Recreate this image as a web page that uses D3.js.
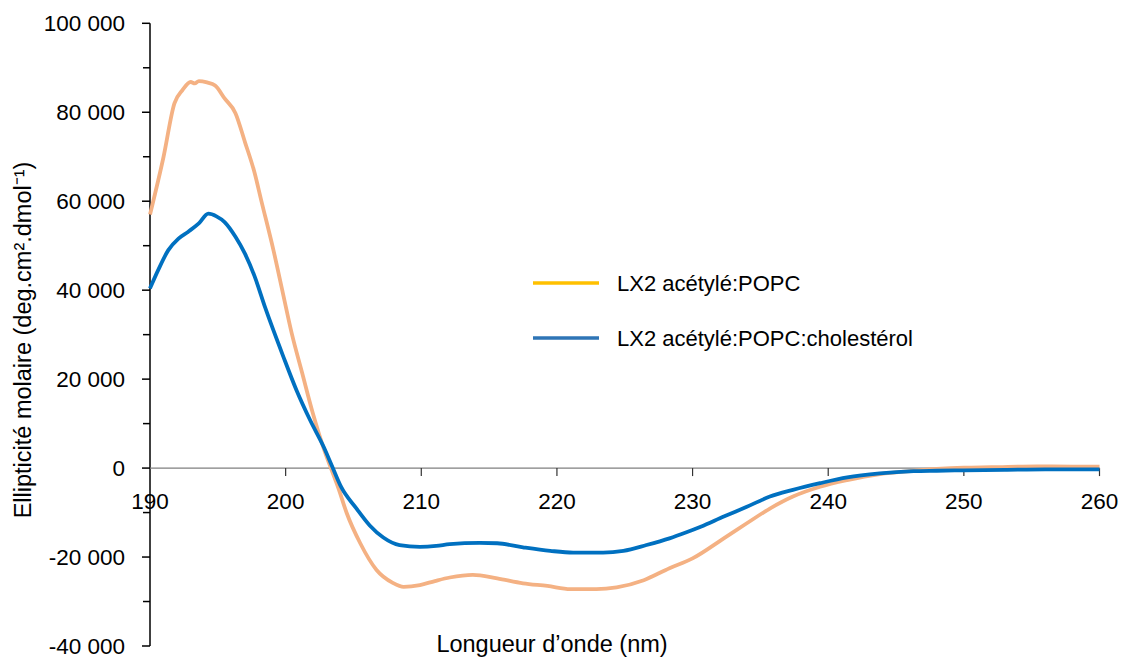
<!DOCTYPE html>
<html>
<head>
<meta charset="utf-8">
<script src="https://cdn.jsdelivr.net/npm/d3@7"></script>
<style>
  body { margin: 0; background: #fff; }
  text { font-family: "Liberation Sans", Arial, sans-serif; fill: #000; }
</style>
</head>
<body>
<div id="graph"></div>
<script>
// ------DATA------
// wavelength (nm) / molar ellipticity
const popcNm = [190, 191, 191.8, 192.4, 193, 193.3, 193.6, 194.2, 194.8, 195.5, 196.3, 197, 197.7, 198.2, 199.1, 199.8, 200.45, 201.2, 202, 202.9, 203.4, 203.9, 204.5, 205.5, 206.7, 207.9, 208.7, 209.9, 211, 212.1, 213.8, 215.6, 217.5, 219.3, 221, 222.9, 224.4, 226.4, 228.3, 230, 232.3, 234, 235.7, 237.4, 239.4, 241.4, 243.8, 246.3, 248, 250, 252, 255.4, 258, 260]
const popcVal = [57000, 70000, 82000, 85000, 86800, 86500, 87000, 86700, 86000, 83100, 79800, 73300, 66500, 60200, 49000, 39300, 30300, 21600, 12400, 3600, -500, -4600, -10100, -16900, -22900, -25800, -26700, -26300, -25400, -24600, -24000, -24800, -25900, -26500, -27200, -27200, -26800, -25200, -22500, -20300, -15800, -12400, -9100, -6400, -4200, -2700, -1350, -600, -200, 100, 200, 400, 350, 300]

const cholNm = [190, 190.6, 191.35, 192.1, 192.8, 193.6, 194.3, 194.9, 195.5, 196.3, 197, 197.7, 198.5, 199.8, 200.8, 201.8, 202.8, 203.4, 204.1, 205.2, 206.2, 207.2, 208.4, 209.9, 211.1, 212.1, 214.3, 215.6, 217.5, 219.5, 221.2, 223.4, 224.9, 226.6, 228.3, 229.5, 230.6, 232.3, 234, 235.7, 237.4, 239.4, 241.4, 243.8, 246.3, 248, 250, 253, 256, 260]
const cholVal = [40400, 44500, 49000, 51600, 53100, 55000, 57200, 56600, 55300, 52000, 48200, 43200, 36000, 25300, 17500, 10800, 4800, 600, -4300, -9000, -12900, -15600, -17300, -17700, -17500, -17100, -16800, -16900, -17800, -18600, -19000, -19000, -18600, -17300, -15800, -14500, -13200, -10900, -8700, -6400, -4900, -3400, -2100, -1200, -700, -600, -500, -400, -300, -300]

const xTicks = [190, 200, 210, 220, 230, 240, 250, 260]
const yTicks = [-40000, -20000, 0, 20000, 40000, 60000, 80000, 100000]
const yMinorTicks = [-30000, -10000, 10000, 30000, 50000, 70000, 90000]

const seriesNames = ["LX2 acétylé:POPC", "LX2 acétylé:POPC:cholestérol"]
const lineColours = ["#F4B183", "#0070C0"]
const legendColours = ["#FFC000", "#2E75B6"]

// ------LAYOUT------
const width = 1122, height = 659
const margin = { top: 23, right: 22, bottom: 13, left: 150 }

const svg = d3.select('#graph')
  .append("svg")
    .attr("width", width)
    .attr("height", height)

const xScale = d3.scaleLinear().domain([190, 260]).range([margin.left, 1099.5])
const yScale = d3.scaleLinear().domain([-40000, 100000]).range([646, 23.3])

// number format with a space as thousands separator and a plain hyphen
const fmt = d => d3.format(",")(d).replace(/,/g, " ").replace("−", "-")

// ------AXES------
// y axis: line, major + minor ticks pointing outwards
const yAxis = svg.append('g').attr("transform", `translate(${margin.left}, 0)`)
yAxis.append("line")
  .attr("y1", yScale(100000)).attr("y2", yScale(-40000))
  .attr("stroke", "#000").attr("stroke-width", 1.5)
yAxis.selectAll(".major").data(yTicks).enter().append("line")
  .attr("x1", -8).attr("x2", 0)
  .attr("y1", d => yScale(d)).attr("y2", d => yScale(d))
  .attr("stroke", "#000").attr("stroke-width", 1.5)
yAxis.selectAll(".minor").data(yMinorTicks).enter().append("line")
  .attr("x1", -7).attr("x2", 0)
  .attr("y1", d => yScale(d)).attr("y2", d => yScale(d))
  .attr("stroke", "#000").attr("stroke-width", 1.5)
yAxis.selectAll("text").data(yTicks).enter().append("text")
  .attr("x", -25)
  .attr("y", d => yScale(d))
  .attr("dy", "0.36em")
  .attr("text-anchor", "end")
  .style("font-size", "22.5px")
  .text(fmt)

// x axis sits on y = 0
const xAxis = svg.append('g').attr("transform", `translate(0, ${yScale(0)})`)
xAxis.append("line")
  .attr("x1", xScale(190)).attr("x2", xScale(260))
  .attr("stroke", "#7f7f7f").attr("stroke-width", 1.2)
xAxis.selectAll(".tick").data(xTicks.slice(1)).enter().append("line")
  .attr("x1", d => xScale(d)).attr("x2", d => xScale(d))
  .attr("y1", 0).attr("y2", 8)
  .attr("stroke", "#333").attr("stroke-width", 1.2)
xAxis.selectAll("text").data(xTicks).enter().append("text")
  .attr("x", d => xScale(d))
  .attr("y", 41)
  .attr("text-anchor", "middle")
  .style("font-size", "22.5px")
  .text(d => d)

// axis titles
svg.append("text")
  .attr("x", 552).attr("y", 652)
  .attr("text-anchor", "middle")
  .style("font-size", "23.5px")
  .text("Longueur d’onde (nm)")

svg.append("text")
  .attr("transform", `translate(31, 340) rotate(-90)`)
  .attr("text-anchor", "middle")
  .style("font-size", "23.5px")
  .text("Ellipticité molaire (deg.cm².dmol⁻¹)")

// ------LINES------
const series = [
  popcNm.map((d, i) => [d, popcVal[i]]),
  cholNm.map((d, i) => [d, cholVal[i]])
]
const line = d3.line()
  .x(d => xScale(d[0]))
  .y(d => yScale(d[1]))
  .curve(d3.curveMonotoneX)

svg.selectAll(".series").data(series).enter().append("path")
  .attr("d", line)
  .attr("fill", "none")
  .attr("stroke", (d, i) => lineColours[i])
  .attr("stroke-width", 3.8)
  .attr("stroke-linejoin", "round")

// ------LEGEND------
const legend = svg.selectAll(".legend").data(seriesNames).enter().append("g")
  .attr("transform", (d, i) => `translate(533, ${283 + i * 55})`)
legend.append("line")
  .attr("x1", 0).attr("x2", 66)
  .attr("stroke", (d, i) => legendColours[i])
  .attr("stroke-width", 3.5)
legend.append("text")
  .attr("x", 84).attr("y", 0)
  .attr("dy", "0.36em")
  .style("font-size", "22px")
  .text(d => d)
</script>
</body>
</html>
